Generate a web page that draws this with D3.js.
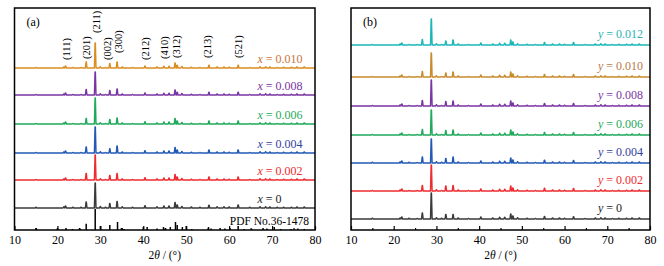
<!DOCTYPE html>
<html><head><meta charset="utf-8">
<script src="https://cdn.jsdelivr.net/npm/d3@7"></script>
<style>
body{margin:0;background:#fff}
svg{display:block}
text{font-family:"Liberation Serif","Times New Roman",serif;fill:#000}
</style></head>
<body><svg id="c" width="664" height="266"></svg>
<script>
// ---------- data ----------
const xTicks = [10,20,30,40,50,60,70,80];
const xMinorTicks = [15,25,35,45,55,65,75];
const peakPos = [15.0,21.5,21.9,23.6,25.5,26.7,28.8,30.0,31.2,32.2,33.9,35.1,37.5,40.4,43.2,44.8,46.0,47.4,47.9,49.0,51.2,53.2,55.3,57.2,58.8,60.0,62.1,64.8,67.2,68.5,69.5,71.2,72.7,74.5,75.8,77.5];
// panel (a) intensities (main peak ~100)
const hA0    = [3,5,8,3,3,24,100,6,3,18,26,5,3,9,5,8,8,22,12,6,4,3,11,5,5,4,12,3,5,5,4,3,3,3,4,4];
const hA002  = [2,4,8,2,2,26,100,5,2,18,26,4,2,9,4,8,8,22,12,6,3,2,12,4,4,3,12,2,5,5,4,2,3,3,4,4];
const hA004  = [2,4,8,2,2,24,104,5,2,17,28,4,2,9,4,8,8,22,12,6,3,2,12,4,4,3,12,2,5,5,4,2,3,3,4,4];
const hA006  = [2,4,8,2,2,22,104,5,2,18,24,4,2,9,4,8,8,22,12,6,3,2,12,4,4,3,12,2,5,5,4,2,3,3,4,4];
const hA008  = [2,4,8,2,2,22,92,5,2,18,24,4,2,8,4,7,7,20,11,6,3,2,11,4,4,3,11,2,5,5,4,2,3,3,4,4];
const hA010  = [2,4,8,2,2,24,100,5,2,18,24,4,2,8,4,7,7,20,11,6,3,2,11,4,4,3,11,2,5,5,4,2,3,3,4,4];
const offA   = [88,200,308,424,540,648];
const labA   = ["x = 0","x = 0.002","x = 0.004","x = 0.006","x = 0.008","x = 0.010"];
// PDF No.36-1478 reference sticks
const pdfPos = [15.0,20.0,22.0,23.5,25.3,26.7,28.8,30.0,32.2,34.0,34.9,35.5,40.0,40.9,43.2,44.7,45.2,46.3,47.5,47.9,49.1,50.0,51.3,55.2,55.8,57.9,59.0,60.2,62.1,63.5,65.3,67.9,68.8,70.5,72.0,74.4,76.0,77.5];
const pdfInt = [9,9,9,5,7,30,100,19,24,38,9,5,14,14,7,14,9,14,38,24,14,19,5,14,7,9,7,9,19,5,5,9,7,14,5,5,7,5];
// panel (b) intensities
const hB0    = [3,4,8,3,2,24,104,5,3,18,18,4,2,8,4,7,7,20,12,5,3,2,10,4,4,3,9,2,4,5,4,2,3,3,4,4];
const hB002  = [2,4,8,2,2,22,104,5,2,20,22,4,2,8,4,7,7,20,12,5,3,2,11,4,4,3,10,2,4,5,4,2,3,3,4,4];
const hB004  = [3,4,8,3,2,24,96,5,3,18,24,4,2,8,4,7,7,20,12,5,3,2,11,4,4,3,10,2,4,5,4,2,3,3,4,4];
const hB006  = [2,4,8,2,2,22,100,5,2,18,20,4,2,8,4,7,7,20,12,5,3,2,10,4,4,3,10,2,4,5,4,2,3,3,4,4];
const hB008  = [2,4,8,2,2,22,104,5,2,18,20,4,2,8,4,7,7,20,12,5,3,2,10,4,4,3,10,2,4,5,4,2,3,3,4,4];
const hB010  = [2,4,8,2,2,22,96,5,2,16,20,4,2,8,4,7,7,20,12,5,3,2,10,4,4,3,10,2,4,5,4,2,3,3,4,4];
const hB012  = [2,4,8,2,2,22,104,5,2,16,20,4,2,8,4,7,7,20,12,5,3,2,10,4,4,3,10,2,4,5,4,2,3,3,4,4];
const offB   = [44,156,268,380,496,612,740];
const labB   = ["y = 0","y = 0.002","y = 0.004","y = 0.006","y = 0.008","y = 0.010","y = 0.012"];
const hkl    = ["(111)","(201)","(211)","(002)","(300)","(212)","(410)","(312)","(213)","(521)"];
const hklPos = [22.1,26.7,29.0,31.6,34.2,40.5,44.9,47.8,54.9,62.1];

// ---------- styles ----------
const colA = ["#3a3a3a","#ee2b2f","#2159b4","#1fa95b","#7a35a4","#d98d22"];
const txtA = ["#222","#ee2b2f","#3440a0","#1fa95b","#7a35a4","#c8743a"];
const colB = ["#3a3a3a","#ee2b2f","#2159b4","#1fa95b","#7a35a4","#c98a2c","#1ab6b8"];
const txtB = ["#222","#ee2b2f","#3440a0","#1fa95b","#7a35a4","#b87a4a","#2ab3b3"];
const hklLift = [60,59,33,60,53,60,59,58,58,58];

const svg = d3.select("#c");
const plotTop=8, plotBottom=230;
const y = d3.scaleLinear().domain([0,888]).range([plotBottom,plotTop]);
const hw = 0.19;

function profile(h){
  const pts=[[10,0]];
  peakPos.forEach((p,i)=>{pts.push([p-hw,0],[p-0.04,h[i]],[p+0.04,h[i]],[p+hw,0]);});
  pts.push([80,0]);
  return pts;
}

function panel(x0,x1,name){
  const x = d3.scaleLinear().domain([10,80]).range([x0,x1]);
  const g = svg.append("g");
  g.append("g").attr("transform",`translate(0,${plotBottom})`)
   .call(d3.axisBottom(x).tickValues(xTicks).tickSizeInner(-4).tickSizeOuter(0).tickPadding(5))
   .call(a=>{a.select(".domain").remove();a.selectAll("line").attr("stroke","#000").attr("stroke-width",1.2);
             a.selectAll("text").attr("font-size",12).attr("font-family","Liberation Serif").attr("fill","#000");});
  g.append("g").attr("transform",`translate(0,${plotBottom})`)
   .call(d3.axisBottom(x).tickValues(xMinorTicks).tickSizeInner(-2).tickSizeOuter(0).tickFormat(""))
   .call(a=>{a.select(".domain").remove();a.selectAll("line").attr("stroke","#000").attr("stroke-width",1.2);});
  g.append("text").attr("x",(x0+x1)/2).attr("y",259).attr("text-anchor","middle").attr("font-size",11.5)
   .html('2<tspan font-style="italic">θ</tspan> / (°)');
  g.append("text").attr("x",x0+12).attr("y",26).attr("font-size",12).text(name);
  return {x,g};
}

function drawSeries(P,h,off,col){
  const line = d3.line().x(d=>P.x(d[0])).y(d=>y(d[1]+off));
  P.g.append("path").datum(profile(h)).attr("d",line).attr("fill","none")
    .attr("stroke",col).attr("stroke-width",1.4).attr("stroke-linejoin","round");
}
function seriesLabel(P,txt,off,col,xv,dy){
  const parts = txt.split(" = ");
  const t = P.g.append("text").attr("x",P.x(xv)).attr("y",y(off)-dy).attr("font-size",12).style("fill",col);
  t.append("tspan").attr("font-style","italic").text(parts[0]);
  t.append("tspan").text(" = "+parts[1]);
}

// panel (a)
const A = panel(14.5,315,"(a)");
const seriesA=[hA0,hA002,hA004,hA006,hA008,hA010];
seriesA.forEach((h,i)=>{drawSeries(A,h,offA[i],colA[i]);seriesLabel(A,labA[i],offA[i],txtA[i],66.6,5);});
A.g.selectAll("line.pdf").data(pdfPos).join("line").attr("class","pdf")
  .attr("x1",d=>A.x(d)).attr("x2",d=>A.x(d)).attr("y1",y(0)).attr("y2",(d,i)=>y(pdfInt[i]*0.84))
  .attr("stroke","#000").attr("stroke-width",1.5);
A.g.append("text").attr("x",A.x(78.6)).attr("y",225).attr("text-anchor","end").attr("font-size",11.5).text("PDF No.36-1478");
hkl.forEach((t,i)=>{
  const cx=A.x(hklPos[i]);
  A.g.append("text").attr("transform",`translate(${cx+3.5},${hklLift[i]}) rotate(-90)`).attr("font-size",10.5).text(t);
});
A.g.append("rect").attr("x",14.5).attr("y",plotTop).attr("width",315-14.5).attr("height",plotBottom-plotTop)
  .attr("fill","none").attr("stroke","#000").attr("stroke-width",1.5);

// panel (b)
const B = panel(351,650,"(b)");
const seriesB=[hB0,hB002,hB004,hB006,hB008,hB010,hB012];
seriesB.forEach((h,i)=>{drawSeries(B,h,offB[i],colB[i]);seriesLabel(B,labB[i],offB[i],txtB[i],67.8,7);});
B.g.append("rect").attr("x",351).attr("y",plotTop).attr("width",650-351).attr("height",plotBottom-plotTop)
  .attr("fill","none").attr("stroke","#000").attr("stroke-width",1.5);
</script>
</body></html>
